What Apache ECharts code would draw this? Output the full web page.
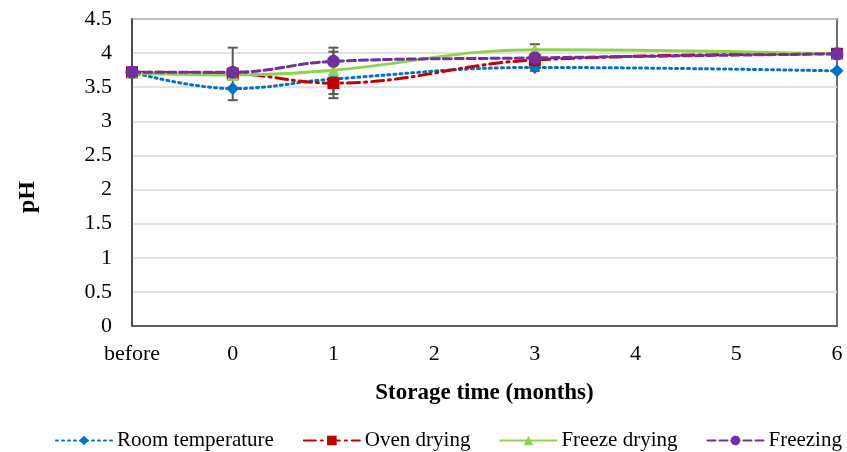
<!DOCTYPE html>
<html>
<head>
<meta charset="utf-8">
<script src="https://cdn.jsdelivr.net/npm/echarts@6/dist/echarts.min.js"></script>
<style>
  html, body { margin: 0; padding: 0; background: #fff; }
  #chart { width: 847px; height: 452px; }
</style>
</head>
<body>
<div id="chart"></div>
<script>
// storage time categories
var categories = ["before", "0", "1", "2", "3", "4", "5", "6"];

// pH per treatment (null = no measurement, line spans gap)
var roomTemp = [3.72, 3.48, 3.62, null, 3.79, null, null, 3.74];
var ovenDrying = [3.72, 3.70, 3.56, null, 3.90, null, null, 3.99];
var freezeDrying = [3.71, 3.68, 3.75, null, 4.05, null, null, 3.99];
var freezing = [3.72, 3.72, 3.88, null, 3.93, null, null, 3.99];

// error bars: [category index, low, high]
var errorBars = [
    [1, 3.31, 4.08],
    [2, 3.34, 4.02],
    [2, 3.40, 4.08],
    [4, 3.74, 4.13],
];

var font = "'Liberation Serif', 'Times New Roman', serif";

var chart = echarts.init(document.getElementById("chart"));

function lineSeries(name, data, color, type, symbol, size) {
    return {
        name: name,
        type: "line",
        data: data,
        smooth: 0.4,
        connectNulls: true,
        symbol: symbol,
        symbolSize: size,
        itemStyle: { color: color },
        lineStyle: { color: color, width: 3, type: type, cap: "round" },
        z: 3,
    };
}

var option = {
    animation: false,
    grid: {
        left: 132,
        right: 10,
        top: 19,
        bottom: 126,
        show: true,
        borderColor: "#404040",
        borderWidth: 1.5,
    },
    graphic: [
        {
            type: "text",
            x: 28,
            y: 197,
            rotation: Math.PI / 2,
            style: {
                text: "pH",
                font: "bold 24px " + font,
                fill: "#000",
                textAlign: "center",
                textVerticalAlign: "middle",
            },
        },
    ],
    legend: {
        left: 50,
        top: 425,
        width: 797,
        itemWidth: 56,
        itemHeight: 12,
        itemGap: 29,
        textStyle: { fontFamily: font, fontSize: 21, color: "#000" },
        data: ["Room temperature", "Oven drying", "Freeze drying", "Freezing"],
    },
    xAxis: {
        type: "category",
        data: categories,
        boundaryGap: false,
        name: "Storage time (months)",
        nameLocation: "middle",
        nameGap: 56,
        nameTextStyle: {
            fontFamily: font,
            fontSize: 23,
            fontWeight: "bold",
            color: "#000",
        },
        axisLine: { lineStyle: { color: "#404040", width: 1.5 } },
        axisTick: { show: false },
        axisLabel: {
            fontFamily: font,
            fontSize: 22,
            color: "#000",
            margin: 17,
        },
        splitLine: { show: false },
    },
    yAxis: {
        type: "value",
        min: 0,
        max: 4.5,
        interval: 0.5,
        axisLine: { show: true, lineStyle: { color: "#404040", width: 1.5 } },
        axisTick: { show: false },
        axisLabel: {
            fontFamily: font,
            fontSize: 22,
            color: "#000",
            margin: 20,
        },
        splitLine: { lineStyle: { color: "#d9d9d9", width: 1.5 } },
    },
    series: [
        {
            type: "custom",
            name: "errors",
            data: errorBars,
            z: 2,
            renderItem: function (params, api) {
                var x = api.value(0);
                var lo = api.coord([x, api.value(1)]);
                var hi = api.coord([x, api.value(2)]);
                var w = 5;
                var style = { stroke: "#595959", lineWidth: 2 };
                return {
                    type: "group",
                    children: [
                        { type: "line", shape: { x1: lo[0], y1: lo[1], x2: hi[0], y2: hi[1] }, style: style },
                        { type: "line", shape: { x1: lo[0] - w, y1: lo[1], x2: lo[0] + w, y2: lo[1] }, style: style },
                        { type: "line", shape: { x1: hi[0] - w, y1: hi[1], x2: hi[0] + w, y2: hi[1] }, style: style },
                    ],
                };
            },
        },
        lineSeries("Room temperature", roomTemp, "#0070C0", [2, 4], "diamond", 13),
        lineSeries("Oven drying", ovenDrying, "#C00000", [12, 5, 2, 5], "rect", 12),
        lineSeries("Freeze drying", freezeDrying, "#92D050", "solid", "triangle", 12),
        lineSeries("Freezing", freezing, "#7030A0", [8, 4], "circle", 13),
    ],
};

chart.setOption(option);
</script>
</body>
</html>
